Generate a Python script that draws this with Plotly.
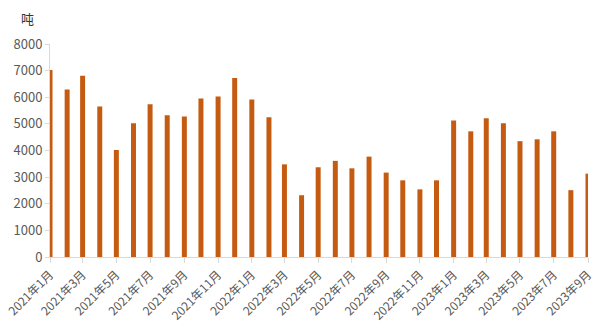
import plotly.graph_objects as go

months = [
    "2021-01-01", "2021-02-01", "2021-03-01", "2021-04-01", "2021-05-01", "2021-06-01",
    "2021-07-01", "2021-08-01", "2021-09-01", "2021-10-01", "2021-11-01", "2021-12-01",
    "2022-01-01", "2022-02-01", "2022-03-01", "2022-04-01", "2022-05-01", "2022-06-01",
    "2022-07-01", "2022-08-01", "2022-09-01", "2022-10-01", "2022-11-01", "2022-12-01",
    "2023-01-01", "2023-02-01", "2023-03-01", "2023-04-01", "2023-05-01", "2023-06-01",
    "2023-07-01", "2023-08-01", "2023-09-01",
]
values = [
    7020, 6290, 6810, 5650, 4020, 5020, 5740, 5320, 5280, 5950, 6030, 6720,
    5920, 5250, 3480, 2320, 3370, 3610, 3330, 3770, 3170, 2880, 2540, 2880,
    5130, 4720, 5210, 5020, 4350, 4420, 4720, 2510, 3130,
]
unit = "吨"

FONT = "Noto Sans CJK SC"
GREY = "#595959"
AXIS = "#d9d9d9"
BAR = "#C55A11"

fig = go.Figure(go.Bar(
    x=months, y=values,
    marker=dict(color=BAR, line=dict(width=0)),
    width=9 * 86400000,
    hoverinfo="x+y",
))

fig.update_layout(
    width=603, height=330,
    margin=dict(l=50, r=15, t=44, b=73),
    paper_bgcolor="white", plot_bgcolor="white",
    showlegend=False,
    font=dict(family=FONT, size=11, color=GREY),
    annotations=[dict(text=unit, x=-23 / 538, y=1 + (44 - 18) / 213,
                      xref="paper", yref="paper", xanchor="center", yanchor="middle",
                      showarrow=False, font=dict(family=FONT, size=13, color="#333333"))],
)

fig.update_xaxes(
    type="date",
    range=["2021-01-01", "2023-09-01"],
    tick0="2021-01-01", dtick="M2",
    tickformat="%Y年%-m月",
    tickangle=-45,
    ticks="outside", ticklen=5, tickcolor=AXIS,
    showline=True, linecolor=AXIS, linewidth=1,
    showgrid=False, zeroline=False, automargin=False,
    tickfont=dict(family=FONT, size=12, color=GREY),
)
fig.update_yaxes(
    range=[0, 8000], dtick=1000,
    ticks="outside", ticklen=4, tickcolor=AXIS,
    showline=True, linecolor=AXIS, linewidth=1,
    showgrid=False, zeroline=False, automargin=False,
    tickfont=dict(family=FONT, size=13, color=GREY),
)

fig.write_html("out.html")
